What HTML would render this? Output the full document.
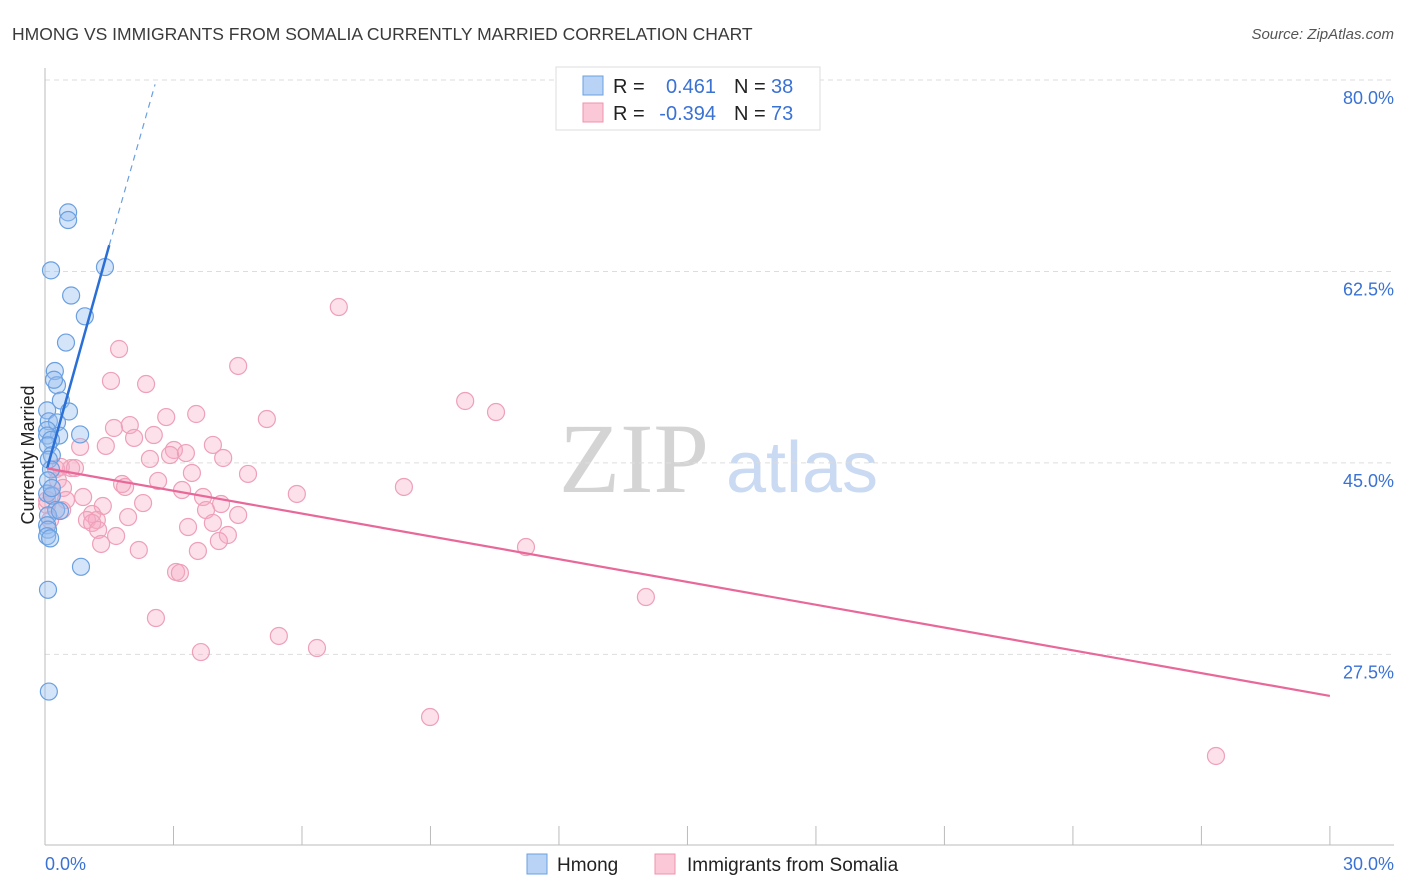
<!DOCTYPE html>
<html><head><meta charset="utf-8"><style>
body{margin:0;background:#fff;font-family:"Liberation Sans",sans-serif;}
svg{display:block}
</style></head><body>
<svg id="chart" width="1406" height="892" xmlns="http://www.w3.org/2000/svg">
<text x="12" y="40" font-size="17.5" fill="#3a3a3a">HMONG VS IMMIGRANTS FROM SOMALIA CURRENTLY MARRIED CORRELATION CHART</text>
<text x="1394" y="39" font-size="15" fill="#555" font-style="italic" text-anchor="end">Source: ZipAtlas.com</text>
<text x="634" y="492" font-size="100" fill="#d4d4d4" font-family="Liberation Serif,serif" text-anchor="middle">ZIP</text>
<text x="802" y="492" font-size="72" fill="#c9daf2" text-anchor="middle">atlas</text>
<g id="grid"></g>
<g id="axes"></g>
<g id="pink-points"></g>
<g id="blue-points"></g>
<g id="trends"></g>
<text transform="translate(34,455) rotate(-90)" font-size="18" fill="#222" text-anchor="middle">Currently Married</text>
<g>
<rect x="556" y="67" width="264" height="63" fill="#fff" stroke="#ddd"/>
<rect x="583" y="76" width="20" height="19" fill="#b8d3f5" stroke="#6a9fe0"/>
<rect x="583" y="103" width="20" height="19" fill="#fac8d6" stroke="#ef93ae"/>
<text x="613" y="93" font-size="20" fill="#222">R =</text>
<text x="716" y="93" font-size="20" fill="#3a72d4" text-anchor="end">0.461</text>
<text x="734" y="93" font-size="20" fill="#222">N =</text>
<text x="771" y="93" font-size="20" fill="#3a72d4">38</text>
<text x="613" y="120" font-size="20" fill="#222">R =</text>
<text x="716" y="120" font-size="20" fill="#3a72d4" text-anchor="end">-0.394</text>
<text x="734" y="120" font-size="20" fill="#222">N =</text>
<text x="771" y="120" font-size="20" fill="#3a72d4">73</text>
</g>
<g>
<rect x="527" y="854" width="20" height="20" fill="#b8d3f5" stroke="#6a9fe0"/>
<text x="557" y="871" font-size="19" fill="#222">Hmong</text>
<rect x="655" y="854" width="20" height="20" fill="#fac8d6" stroke="#ef93ae"/>
<text x="687" y="871" font-size="19" fill="#222">Immigrants from Somalia</text>
</g>
</svg>
<script>
const yTicks=[80,62.5,45,27.5];
const yTickLabels=["80.0%","62.5%","45.0%","27.5%"];
const xTicks=[0,3,6,9,12,15,18,21,24,27,30];
const blueX=[0.54,0.54,0.14,1.40,0.61,0.93,0.49,0.23,0.28,0.21,0.37,0.56,0.05,0.09,0.28,0.05,0.33,0.82,0.05,0.14,0.07,0.16,0.09,0.14,0.07,0.05,0.16,0.26,0.07,0.05,0.07,0.05,0.12,0.84,0.07,0.09,0.35,0.16];
const blueY=[67.9,67.2,62.6,62.9,60.3,58.4,56.0,53.4,52.1,52.6,50.7,49.7,49.8,48.8,48.7,48.0,47.5,47.6,47.5,47.1,46.6,45.7,45.3,44.4,43.4,42.2,42.0,40.7,40.2,39.3,38.9,38.3,38.1,35.5,33.4,24.1,40.6,42.7];
const pinkX=[6.86,4.51,1.73,1.54,2.36,9.81,10.53,5.18,3.53,2.83,1.98,1.61,2.54,2.08,1.42,0.82,3.92,3.01,3.29,2.92,2.45,4.16,4.74,3.43,0.61,0.26,0.37,0.70,0.30,0.42,1.80,1.87,2.64,3.20,8.38,5.88,3.69,0.89,0.49,2.29,4.11,0.16,3.76,0.40,1.35,1.10,1.94,4.51,0.98,1.21,1.10,1.24,3.34,3.92,1.66,4.27,4.06,1.31,2.19,3.57,11.23,3.06,3.15,2.59,14.03,5.46,6.35,3.64,8.99,27.34,0.05,0.12,0.05];
const pinkY=[59.25,53.86,55.41,52.49,52.21,50.66,49.65,49.01,49.47,49.19,48.46,48.19,47.55,47.28,46.55,46.46,46.64,46.18,45.90,45.72,45.36,45.45,43.99,44.08,44.53,44.44,44.63,44.53,43.44,42.71,43.07,42.80,43.35,42.52,42.80,42.16,41.88,41.88,41.61,41.33,41.24,42.07,40.69,40.69,41.06,40.33,40.05,40.24,39.78,39.78,39.51,38.87,39.14,39.51,38.32,38.41,37.86,37.59,37.04,36.95,37.31,35.03,34.94,30.82,32.74,29.18,28.08,27.71,21.77,18.21,41.15,39.78,41.61];
const blueTrend=[[0.05,44.5],[1.5,64.9],[2.57,79.6]];
const pinkTrend=[[0.05,44.5],[30,23.7]];
const NS="http://www.w3.org/2000/svg";
const xs=v=>45+v*42.83;
const ys=v=>80+(80-v)*10.94;
function mk(tag,attrs,parent){const e=document.createElementNS(NS,tag);for(const k in attrs)e.setAttribute(k,attrs[k]);document.getElementById(parent).appendChild(e);return e;}
yTicks.forEach((t,i)=>{
 const l=mk('line',{x1:45,x2:1394,y1:ys(t),y2:ys(t),stroke:'#ddd','stroke-dasharray':'5,4'},'grid');
 
 
 const tx=mk('text',{x:1394,y:ys(t)+24,'font-size':18,fill:'#3a72d4','text-anchor':'end'},'grid');
 tx.textContent=yTickLabels[i];
 
 
});
const ya=mk('line',{x1:45,x2:45,y1:68,y2:845,stroke:'#bbb'},'axes');


const xa=mk('line',{x1:45,x2:1394,y1:845,y2:845,stroke:'#bbb'},'axes');


xTicks.forEach(t=>{
 const l=mk('line',{x1:xs(t),x2:xs(t),y1:826,y2:845,stroke:'#bbb'},'axes');
 
 
});
const xl0=mk('text',{x:45,y:870,'font-size':18,fill:'#3a72d4'},'axes');xl0.textContent='0.0%';


const xl1=mk('text',{x:1394,y:870,'font-size':18,fill:'#3a72d4','text-anchor':'end'},'axes');xl1.textContent='30.0%';


pinkX.forEach((v,i)=>{
 const c=mk('circle',{cx:xs(v),cy:ys(pinkY[i]),r:8.5,fill:'rgba(246,170,194,0.35)',stroke:'#eea0b8','stroke-width':1.2},'pink-points');
 
 
});
blueX.forEach((v,i)=>{
 const c=mk('circle',{cx:xs(v),cy:ys(blueY[i]),r:8.5,fill:'rgba(150,190,240,0.4)',stroke:'#6a9fe0','stroke-width':1.2},'blue-points');
 
 
});
const bt1=mk('line',{x1:xs(blueTrend[0][0]),y1:ys(blueTrend[0][1]),x2:xs(blueTrend[1][0]),y2:ys(blueTrend[1][1]),stroke:'#2a6fd6','stroke-width':2.5},'trends');


const bt2=mk('line',{x1:xs(blueTrend[1][0]),y1:ys(blueTrend[1][1]),x2:xs(blueTrend[2][0]),y2:ys(blueTrend[2][1]),stroke:'#6a9fe0','stroke-width':1.2,'stroke-dasharray':'6,5'},'trends');


const pt=mk('line',{x1:xs(pinkTrend[0][0]),y1:ys(pinkTrend[0][1]),x2:xs(pinkTrend[1][0]),y2:ys(pinkTrend[1][1]),stroke:'#e8689a','stroke-width':2.2},'trends');


</script>
</body></html>
